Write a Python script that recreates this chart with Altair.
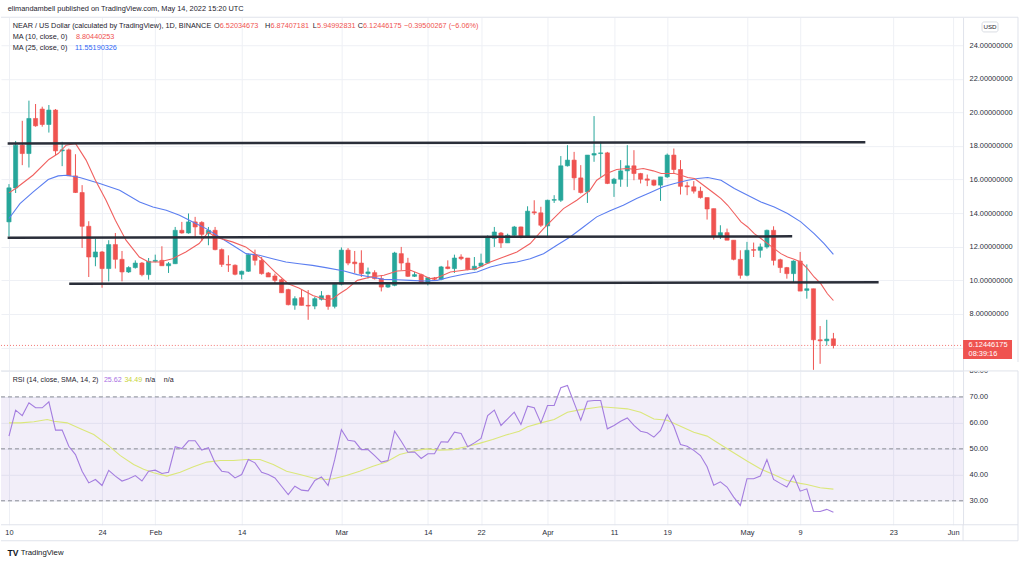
import altair as alt
import numpy as np
import pandas as pd

# ------------------------------------------------------------------ data
START_DATE = "2022-01-10"   # first daily candle

opens = [
    13.48, 15.50, 18.05, 17.55, 19.64, 20.20, 19.28, 20.14, 17.71, 17.77,
    16.22, 15.23, 13.22, 11.39, 11.69, 10.70, 12.13, 11.25, 10.50, 10.76,
    11.03, 10.34, 11.13, 11.19, 10.87, 10.99, 12.98, 12.82, 13.48, 13.45,
    12.78, 12.98, 11.83, 10.95, 10.90, 10.36, 10.54, 11.53, 11.19, 10.44,
    10.26, 10.04, 9.45, 8.52, 8.97, 8.51, 8.47, 8.87, 9.10, 8.45,
    9.77, 11.80, 11.09, 11.03, 10.40, 10.46, 10.10, 9.60, 9.70, 11.59,
    11.03, 10.24, 10.34, 9.84, 10.12, 10.06, 10.80, 10.70, 11.39, 11.33,
    10.64, 10.84, 11.03, 12.50, 12.82, 12.23, 12.68, 13.18, 12.58, 14.08,
    14.02, 13.24, 14.77, 14.77, 16.82, 17.16, 16.10, 15.27, 17.46, 17.55,
    17.59, 15.77, 16.02, 16.52, 16.82, 16.36, 16.04, 15.96, 15.67, 16.16,
    17.46, 16.60, 15.63, 15.57, 15.31, 14.93, 14.27, 12.62, 12.84, 12.39,
    11.25, 10.30, 11.83, 11.79, 11.99, 12.98, 11.23, 10.76, 10.40, 11.15,
    9.40, 9.50, 6.46, 6.40, 6.52]
highs = [
    15.73, 18.30, 19.50, 20.70, 20.50, 20.34, 20.44, 20.20, 18.25, 17.85,
    17.51, 15.67, 13.52, 12.49, 11.75, 12.39, 12.82, 11.75, 10.84, 11.19,
    11.09, 11.33, 11.53, 12.03, 11.09, 13.18, 13.48, 13.98, 13.78, 13.52,
    13.18, 13.18, 11.90, 11.49, 10.95, 10.58, 11.59, 11.83, 11.39, 10.50,
    10.40, 10.10, 9.50, 9.05, 9.44, 9.42, 9.02, 9.36, 9.14, 9.82,
    11.96, 11.92, 11.75, 11.79, 10.76, 10.60, 10.30, 9.90, 11.70, 11.99,
    11.34, 10.50, 10.40, 10.20, 10.20, 10.86, 11.19, 11.53, 11.55, 11.33,
    11.39, 11.59, 12.68, 13.18, 12.88, 12.78, 13.24, 13.20, 14.41, 14.77,
    14.38, 14.80, 15.07, 17.40, 18.05, 17.65, 16.86, 17.46, 19.78, 18.25,
    17.65, 16.10, 17.16, 18.05, 17.75, 16.40, 16.30, 16.00, 16.16, 17.55,
    17.85, 17.16, 15.87, 15.91, 15.57, 14.93, 14.27, 13.28, 13.08, 12.39,
    11.79, 12.29, 12.25, 12.19, 13.02, 13.22, 11.29, 10.80, 11.19, 11.69,
    10.95, 9.50, 7.28, 7.65, 6.87]
lows = [
    12.62, 15.20, 16.86, 16.72, 19.15, 19.15, 18.80, 17.45, 16.80, 16.22,
    15.20, 11.93, 10.20, 10.84, 9.56, 9.94, 10.70, 9.94, 10.44, 10.70,
    10.24, 10.04, 11.07, 10.87, 10.44, 10.97, 12.78, 12.78, 12.58, 12.33,
    12.09, 11.79, 10.80, 10.50, 10.30, 10.06, 10.50, 10.89, 10.34, 10.20,
    9.84, 9.26, 8.51, 8.25, 8.51, 7.65, 8.28, 8.80, 8.25, 8.33,
    9.70, 10.90, 10.44, 10.20, 10.11, 10.05, 9.34, 9.55, 9.65, 10.60,
    10.20, 10.20, 9.80, 9.70, 10.00, 10.00, 10.66, 10.44, 11.20, 10.60,
    10.60, 10.80, 10.99, 11.99, 11.93, 12.23, 12.62, 12.50, 12.58, 13.90,
    13.18, 12.54, 14.61, 14.67, 16.78, 15.37, 15.17, 14.61, 17.06, 16.16,
    15.73, 14.97, 15.57, 15.57, 15.96, 15.77, 15.61, 15.61, 14.73, 16.10,
    16.36, 15.11, 15.07, 15.17, 14.87, 13.62, 12.43, 12.46, 12.39, 11.19,
    10.10, 10.24, 11.39, 11.35, 11.89, 10.89, 10.44, 10.10, 9.90, 9.36,
    8.91, 4.67, 5.03, 6.12, 5.95]
closes = [
    15.51, 18.05, 17.55, 19.64, 19.20, 19.28, 20.14, 17.71, 17.77, 16.22,
    15.23, 13.22, 11.39, 11.69, 10.70, 12.13, 11.25, 10.50, 10.76, 11.03,
    10.34, 11.13, 11.19, 10.87, 10.99, 12.98, 12.82, 13.48, 13.18, 12.74,
    12.98, 11.83, 10.95, 10.91, 10.36, 10.54, 11.53, 11.19, 10.40, 10.20,
    10.00, 9.26, 8.55, 8.91, 8.51, 8.47, 8.91, 9.08, 8.45, 9.77,
    11.80, 11.03, 10.99, 10.40, 10.50, 10.10, 9.60, 9.76, 11.63, 11.03,
    10.24, 10.34, 9.84, 10.16, 10.06, 10.80, 10.70, 11.33, 11.29, 10.64,
    10.84, 11.03, 12.58, 12.88, 12.23, 12.68, 13.18, 12.58, 14.12, 14.02,
    13.28, 14.77, 14.81, 16.82, 17.16, 16.10, 15.23, 17.46, 17.55, 17.59,
    15.77, 16.02, 16.52, 16.82, 16.36, 16.02, 15.96, 15.67, 16.16, 17.46,
    16.60, 15.60, 15.57, 15.31, 14.93, 14.25, 12.62, 12.84, 12.39, 11.25,
    10.30, 11.79, 11.79, 11.99, 12.98, 11.19, 10.76, 10.40, 11.15, 9.36,
    9.50, 6.46, 6.40, 6.50, 6.12]

# moving averages (day offset from START_DATE, value)
ma10_days = [0, 1, 3.6, 6, 7.4, 8.6, 10, 11.6, 13, 14.6, 16, 17.6, 19.6, 21, 22.6,
             24.6, 26.6, 28.6, 30, 31, 33.6, 35.6, 38, 40, 42, 43.6, 45.7, 47.7,
             48.7, 49.7, 50.7, 52.4, 54.4, 56.4, 58.4, 60.4, 61.9, 63.4, 64.4, 66.4,
             68.4, 70.4, 71.4, 72.4, 74.4, 76.4, 78.4, 80.4, 81.4, 83.4, 85.4, 87.4,
             88.4, 89.9, 91.4, 92.9, 94.4, 95.4, 96.9, 98.1, 100.1, 101.1, 102.1,
             103.1, 104.1, 105.1, 106.1, 107.1, 108.1, 109.1, 110.1, 111.1, 112.1,
             113.1, 114.1, 115.1, 116.1, 117.1, 118.1, 119.1, 120.1, 121.1, 122.1,
             123.1, 124]
ma10_vals = [15.21, 15.47, 16.26, 17.20, 17.55, 18.05, 18.15, 17.16, 15.96, 14.77,
             13.58, 12.39, 11.39, 11.09, 11.09, 11.29, 11.69, 12.19, 12.88, 12.58,
             12.29, 11.99, 11.29, 10.50, 9.80, 9.55, 9.10, 8.85, 8.90, 9.20,
             9.45, 10.00, 10.20, 10.30, 10.56, 10.60, 10.36, 10.10, 10.16, 10.50,
             10.60, 10.70, 10.90, 11.09, 11.39, 11.69, 12.19, 13.08, 13.48, 14.27,
             14.77, 15.37, 15.96, 16.36, 16.60, 16.66, 16.60, 16.66, 16.52, 16.36,
             16.36, 16.26, 16.12, 16.06, 15.77, 15.47, 15.17, 14.87, 14.47, 13.98,
             13.48, 13.18, 12.78, 12.49, 12.19, 11.89, 11.59, 11.39, 11.25, 11.09,
             10.70, 10.20, 9.80, 9.20, 8.80]
ma25_days = [0, 1.65, 3.65, 5.9, 7.4, 8.65, 10.65, 13.65, 16.65, 19.65, 21.65, 23.65,
             25.65, 27.65, 29.65, 31.65, 33.65, 35.65, 37.65, 39.65, 41.65, 43.65,
             45.65, 47.65, 50.4, 52.4, 54.4, 56.4, 58.4, 60.4, 62.4, 64.4, 66.4, 68.4,
             70.4, 72.4, 74.4, 76.4, 78.4, 80.4, 82.4, 84.4, 86.4, 88.4, 90.4, 92.4,
             94.4, 96.4, 98.4, 100.1, 102.1, 103.6, 105.1, 107.1, 109.1, 111.1,
             113.1, 115.1, 117.1, 119.1, 121.1, 122.6, 124]
ma25_vals = [13.68, 14.57, 15.27, 16.00, 16.22, 16.26, 16.12, 15.77, 15.37, 14.67,
             14.37, 14.17, 13.88, 13.48, 13.08, 12.58, 12.09, 11.59, 11.49, 11.29,
             11.09, 10.99, 10.89, 10.76, 10.56, 10.34, 10.20, 10.06, 10.04, 10.00,
             9.96, 10.00, 10.20, 10.36, 10.50, 10.80, 10.99, 11.09, 11.29, 11.59,
             12.09, 12.58, 13.18, 13.78, 14.14, 14.47, 14.87, 15.21, 15.57, 15.77,
             15.96, 16.06, 16.12, 15.96, 15.47, 15.07, 14.67, 14.37, 13.98, 13.48,
             12.78, 12.19, 11.55]

rsi_vals = [
    54.9, 64.9, 62.8, 67.7, 65.8, 65.8, 68.1, 57.2, 57.2, 51.0,
    47.8, 41.4, 36.9, 38.2, 35.9, 41.7, 39.5, 37.6, 38.5, 39.7,
    37.6, 41.4, 41.8, 40.5, 41.0, 50.8, 50.1, 53.1, 53.1, 49.5,
    50.4, 44.6, 41.4, 41.0, 38.8, 40.1, 45.9, 44.6, 41.0, 40.1,
    38.8, 35.6, 32.4, 35.6, 34.1, 33.8, 37.8, 39.2, 35.9, 45.9,
    57.4, 53.3, 52.9, 49.7, 49.7, 47.4, 44.9, 45.5, 56.8, 52.9,
    48.7, 48.8, 46.3, 48.1, 48.1, 52.7, 52.6, 56.4, 55.9, 50.8,
    52.3, 54.0, 62.8, 64.9, 59.0, 61.5, 64.1, 59.4, 66.4, 65.8,
    60.0, 66.7, 66.7, 73.5, 74.4, 67.7, 61.0, 68.3, 68.6, 68.6,
    57.7, 59.0, 60.6, 61.9, 59.0, 56.8, 56.2, 54.5, 57.1, 63.2,
    58.7, 51.7, 51.0, 49.4, 47.4, 43.1, 36.0, 37.3, 35.3, 31.4,
    28.2, 38.5, 38.5, 39.5, 45.9, 38.2, 36.7, 35.3, 39.7, 33.7,
    34.6, 26.0, 25.9, 26.7, 25.62]
rsi_sma_days = [0, 1.75, 3.75, 5.75, 6.75, 8.75, 10.75, 12.75, 14.75, 16.75,
                18.75, 20.25, 21.75, 23.75, 25.75, 27.75, 29.75, 31.75, 33.75, 35.75,
                37.75, 39.75, 41.75, 43.75, 45.75, 47.75, 48.75, 50.75, 52.75, 54.75,
                56.75, 58.75, 60.75, 62.75, 64.75, 66.75, 68.75, 70.75, 72.75, 74.75,
                76.75, 78, 80, 82, 84, 86, 88, 89, 91, 93,
                95, 97, 99, 101, 103, 105, 107, 109, 111, 113,
                115, 117, 119, 120, 122, 124]
rsi_sma_vals = [60.0, 60.0, 60.4, 61.3, 60.6, 60.0, 57.7, 55.5, 51.7, 47.4,
                44.0, 42.1, 40.8, 39.5, 41.0, 43.1, 44.9, 45.5, 45.5, 45.9,
                45.9, 44.0, 41.4, 40.1, 38.8, 38.2, 38.5, 39.7, 41.4, 43.3,
                44.9, 47.8, 49.1, 50.0, 49.5, 49.7, 50.8, 52.1, 53.6, 55.3,
                56.8, 58.5, 60.0, 61.3, 64.1, 65.1, 65.8, 66.2, 65.8, 65.4,
                64.1, 61.5, 61.0, 58.7, 56.4, 54.9, 51.7, 48.5, 45.3, 42.3,
                40.1, 37.8, 36.7, 36.3, 35.0, 34.49]

# hand-drawn horizontal trend lines (start/end day offset, start/end price)
trend_day0 = [-0.2, -0.2, 9.06]
trend_day1 = [128.8, 117.8, 130.8]
trend_val0 = [18.15, 12.54, 9.80]
trend_val1 = [18.23, 12.62, 9.88]

last_close = 6.12446175
countdown = "08:39:16"

tick_dates = ["2022-01-10", "2022-01-24", "2022-02-01", "2022-02-14", "2022-03-01",
              "2022-03-14", "2022-03-22", "2022-04-01", "2022-04-11", "2022-04-19",
              "2022-05-01", "2022-05-09", "2022-05-23", "2022-06-01"]
tick_labels = ["10", "24", "Feb", "14", "Mar", "14", "22", "Apr", "11", "19",
               "May", "9", "23", "Jun"]
price_ticks = [6, 8, 10, 12, 14, 16, 18, 20, 22, 24]
rsi_ticks = [30, 40, 50, 60, 70, 80]
rsi_levels = [30, 50, 70]

# ------------------------------------------------------------------ frames
day0 = pd.Timestamp(START_DATE)
n = len(opens)
candles = pd.DataFrame({
    "date": pd.date_range(day0, periods=n, freq="D").strftime("%Y-%m-%d"),
    "day": np.arange(n),
    "open": opens, "high": highs, "low": lows, "close": closes,
})
candles["dir"] = np.where(candles["close"] >= candles["open"], "up", "down")
ma10 = pd.DataFrame({"day": ma10_days, "v": ma10_vals})
ma25 = pd.DataFrame({"day": ma25_days, "v": ma25_vals})
rsi = pd.DataFrame({"day": np.arange(len(rsi_vals)), "v": rsi_vals})
rsi_sma = pd.DataFrame({"day": rsi_sma_days, "v": rsi_sma_vals})
trends = pd.DataFrame({"d0": trend_day0, "d1": trend_day1, "v0": trend_val0, "v1": trend_val1})
lastp = pd.DataFrame({"p": [last_close], "t1": [f"{last_close:.8f}"], "t2": [countdown]})
levels = pd.DataFrame({"lvl": rsi_levels})
band = pd.DataFrame({"lo": [30], "hi": [70]})
tick_days = [int((pd.Timestamp(d) - day0).days) for d in tick_dates]
dummy = pd.DataFrame({"a": [0]})

# ------------------------------------------------------------------ style
FONT = "Liberation Sans"
TXT = "#1e222d"
AXT = "#2a2e39"
GRID = "#eef0f5"
BORDER = "#e0e3eb"
UP, DOWN = "#26a69a", "#ef5350"
PW, PH, RH = 963, 354, 154

X_SCALE = alt.Scale(domain=[-1.2, 143.5], nice=False, zero=False, padding=0)
P_SCALE = alt.Scale(domain=[4.607, 25.666], nice=False, zero=False)
R_SCALE = alt.Scale(domain=[20.77, 80.0], nice=False, zero=False)
DIR = alt.Scale(domain=["up", "down"], range=[UP, DOWN])

label_expr = ("[" + ",".join(f"'{l}'" for l in tick_labels) + "][indexof(["
              + ",".join(str(d) for d in tick_days) + "], datum.value)]")

X_AXIS_P = alt.Axis(values=tick_days, labels=False, ticks=False, tickSize=0, domain=False,
                    grid=True, gridColor=GRID, title=None)
X_AXIS_R = alt.Axis(values=tick_days, labelExpr=label_expr, labelFlush=False, labelOverlap=False,
                    ticks=False, tickSize=0, domain=False, grid=True, gridColor=GRID, title=None,
                    labelPadding=4, labelFont=FONT, labelFontSize=7.4, labelColor=AXT)
P_AXIS = alt.Axis(orient="right", values=price_ticks, format=".8f",
                  labelExpr="datum.value < 7 ? '' : datum.label", ticks=False, tickSize=0,
                  domain=True, domainColor=BORDER, grid=True, gridColor=GRID, title=None,
                  labelPadding=6, labelFont=FONT, labelFontSize=7.4, labelColor=AXT)
R_AXIS = alt.Axis(orient="right", values=rsi_ticks, format=".2f", ticks=False, tickSize=0,
                  domain=True, domainColor=BORDER, grid=True, gridColor=GRID, title=None,
                  labelPadding=6, labelFont=FONT, labelFontSize=7.4, labelColor=AXT)


def px(field):
    return alt.X(field, type="quantitative", scale=X_SCALE, axis=X_AXIS_P)


def py(field):
    return alt.Y(field, type="quantitative", scale=P_SCALE, axis=P_AXIS)


def rx(field):
    return alt.X(field, type="quantitative", scale=X_SCALE, axis=X_AXIS_R)


def ry(field):
    return alt.Y(field, type="quantitative", scale=R_SCALE, axis=R_AXIS)


def label(s, x, y, color=TXT, size=7.3, weight="normal", align="left"):
    return alt.Chart(dummy).mark_text(
        text=s, align=align, baseline="middle", color=color, fontSize=size,
        fontWeight=weight, font=FONT).encode(x=alt.value(x), y=alt.value(y))


def hline(x0, x1, y, color=BORDER, w=1):
    return alt.Chart(dummy).mark_rule(color=color, strokeWidth=w).encode(
        x=alt.value(x0), x2=alt.value(x1), y=alt.value(y))


def vline(x, y0, y1, color=BORDER, w=1):
    return alt.Chart(dummy).mark_rule(color=color, strokeWidth=w).encode(
        x=alt.value(x), y=alt.value(y0), y2=alt.value(y1))


# ------------------------------------------------------------------ price pane
top_strip = alt.Chart(dummy).mark_rect(color="white").encode(
    x=alt.value(0), x2=alt.value(1024), y=alt.value(-17), y2=alt.value(0))

wicks = alt.Chart(candles).mark_rule(strokeWidth=1).encode(
    x=px("day"), y=py("low"), y2="high",
    color=alt.Color("dir:N", scale=DIR, legend=None))
bodies = alt.Chart(candles).mark_bar(size=4.2, strokeWidth=0.6).encode(
    x=px("day"), y=py("open"), y2="close",
    color=alt.Color("dir:N", scale=DIR, legend=None),
    stroke=alt.Stroke("dir:N", scale=DIR, legend=None))

ma25_line = alt.Chart(ma25).mark_line(color="#5b7ef0", strokeWidth=1.1).encode(x=px("day"), y=py("v"))
ma10_line = alt.Chart(ma10).mark_line(color="#f0605f", strokeWidth=1.1).encode(x=px("day"), y=py("v"))

trend_lines = alt.Chart(trends).mark_rule(color="#2a2e39", strokeWidth=2.5).encode(
    x=px("d0"), x2="d1", y=py("v0"), y2="v1")

dotted = alt.Chart(lastp).mark_rule(color=DOWN, strokeDash=[1, 2], strokeWidth=1, opacity=0.8).encode(
    y=py("p"), x=alt.value(0), x2=alt.value(PW))
price_box = alt.Chart(lastp).mark_rect(color=DOWN, yOffset=-5.5, y2Offset=13.5).encode(
    y=py("p"), y2="p", x=alt.value(963), x2=alt.value(1012))
price_t1 = alt.Chart(lastp).mark_text(align="left", baseline="middle", color="white",
                                      fontSize=7.4, font=FONT).encode(
    y=py("p"), x=alt.value(968.5), text="t1:N")
price_t2 = alt.Chart(lastp).mark_text(align="left", baseline="middle", color="white",
                                      fontSize=7.4, font=FONT, dy=8.5).encode(
    y=py("p"), x=alt.value(968.5), text="t2:N")

usd_box = alt.Chart(dummy).mark_rect(fill="white", stroke="#d1d4dc", strokeWidth=0.8,
                                     cornerRadius=2).encode(
    x=alt.value(982), x2=alt.value(998), y=alt.value(4.7), y2=alt.value(14.7))
usd_txt = label("USD", 990, 9.8, size=6.2, align="center")

header = [
    label("elimandambell published on TradingView.com, May 14, 2022 15:20 UTC", 6.7, -8.3, size=7.4),
    label("NEAR / US Dollar (calculated by TradingView), 1D, BINANCE", 11.7, 9),
    label("O", 213.3, 9), label("6.52034673", 219, 9, color=DOWN),
    label("H", 264.3, 9), label("6.87407181", 269.8, 9, color=DOWN),
    label("L", 312, 9), label("5.94992831", 316.4, 9, color=DOWN),
    label("C", 357, 9), label("6.12446175", 362.4, 9, color=DOWN),
    label("\u22120.39500267 (\u22126.06%)", 403.3, 9, color=DOWN),
    label("MA (10, close, 0)", 11.7, 20), label("8.80440253", 75, 20, color="#f0504f"),
    label("MA (25, close, 0)", 11.7, 31), label("11.55190326", 74, 31, color="#2f66f5"),
]

price_frame = [hline(0, 1018, 0), vline(1018, 0, PH)]

price_pane = alt.layer(
    top_strip, wicks, bodies, ma25_line, ma10_line, trend_lines, dotted,
    price_box, price_t1, price_t2, usd_box, usd_txt, *header, *price_frame,
).properties(width=PW, height=PH)

# ------------------------------------------------------------------ RSI pane
band_rect = alt.Chart(band).mark_rect(color="#7e57c2", opacity=0.1).encode(
    y=ry("lo"), y2="hi", x=alt.value(0), x2=alt.value(PW))
level_lines = alt.Chart(levels).mark_rule(color="#8a8d96", strokeDash=[4, 3], strokeWidth=1).encode(
    y=ry("lvl"), x=alt.value(0), x2=alt.value(PW))
sma_line = alt.Chart(rsi_sma).mark_line(color="#dbe77a", strokeWidth=1.1).encode(x=rx("day"), y=ry("v"))
rsi_line = alt.Chart(rsi).mark_line(color="#a47ddf", strokeWidth=1.1).encode(x=rx("day"), y=ry("v"))

cover = alt.Chart(dummy).mark_rect(color="white").encode(
    x=alt.value(964), x2=alt.value(1024), y=alt.value(-9), y2=alt.value(0))
bottom_strip = alt.Chart(dummy).mark_rect(color="white").encode(
    x=alt.value(0), x2=alt.value(1024), y=alt.value(171), y2=alt.value(194))

rsi_header = [
    label("RSI (14, close, SMA, 14, 2)", 11.7, 9, size=7.1),
    label("25.62", 103, 9, color="#a86fe3", size=7.1),
    label("34.49", 123.5, 9, color="#c8d43a", size=7.1),
    label("n/a", 144.5, 9, size=7.1),
    label("n/a", 163, 9, size=7.1),
]
logo = [
    label("TV", 6.5, 182, color="#131722", size=8.6, weight="bold"),
    label("TradingView", 19.7, 182, color="#131722", size=7.8),
]
rsi_frame = [
    hline(0, 1018, 0), hline(0, 1018, RH), hline(0, 1018, 170),
    vline(963, RH, 170), vline(1018, 0, 170),
]

rsi_pane = alt.layer(
    band_rect, level_lines, sma_line, rsi_line, cover, bottom_strip,
    *rsi_header, *logo, *rsi_frame,
).properties(width=PW, height=RH)

chart = alt.vconcat(price_pane, rsi_pane, spacing=0, bounds="flush",
                    padding=0, background="white").configure_view(strokeWidth=0)

chart.save("out.html", embed_options={"renderer": "svg", "actions": False})
